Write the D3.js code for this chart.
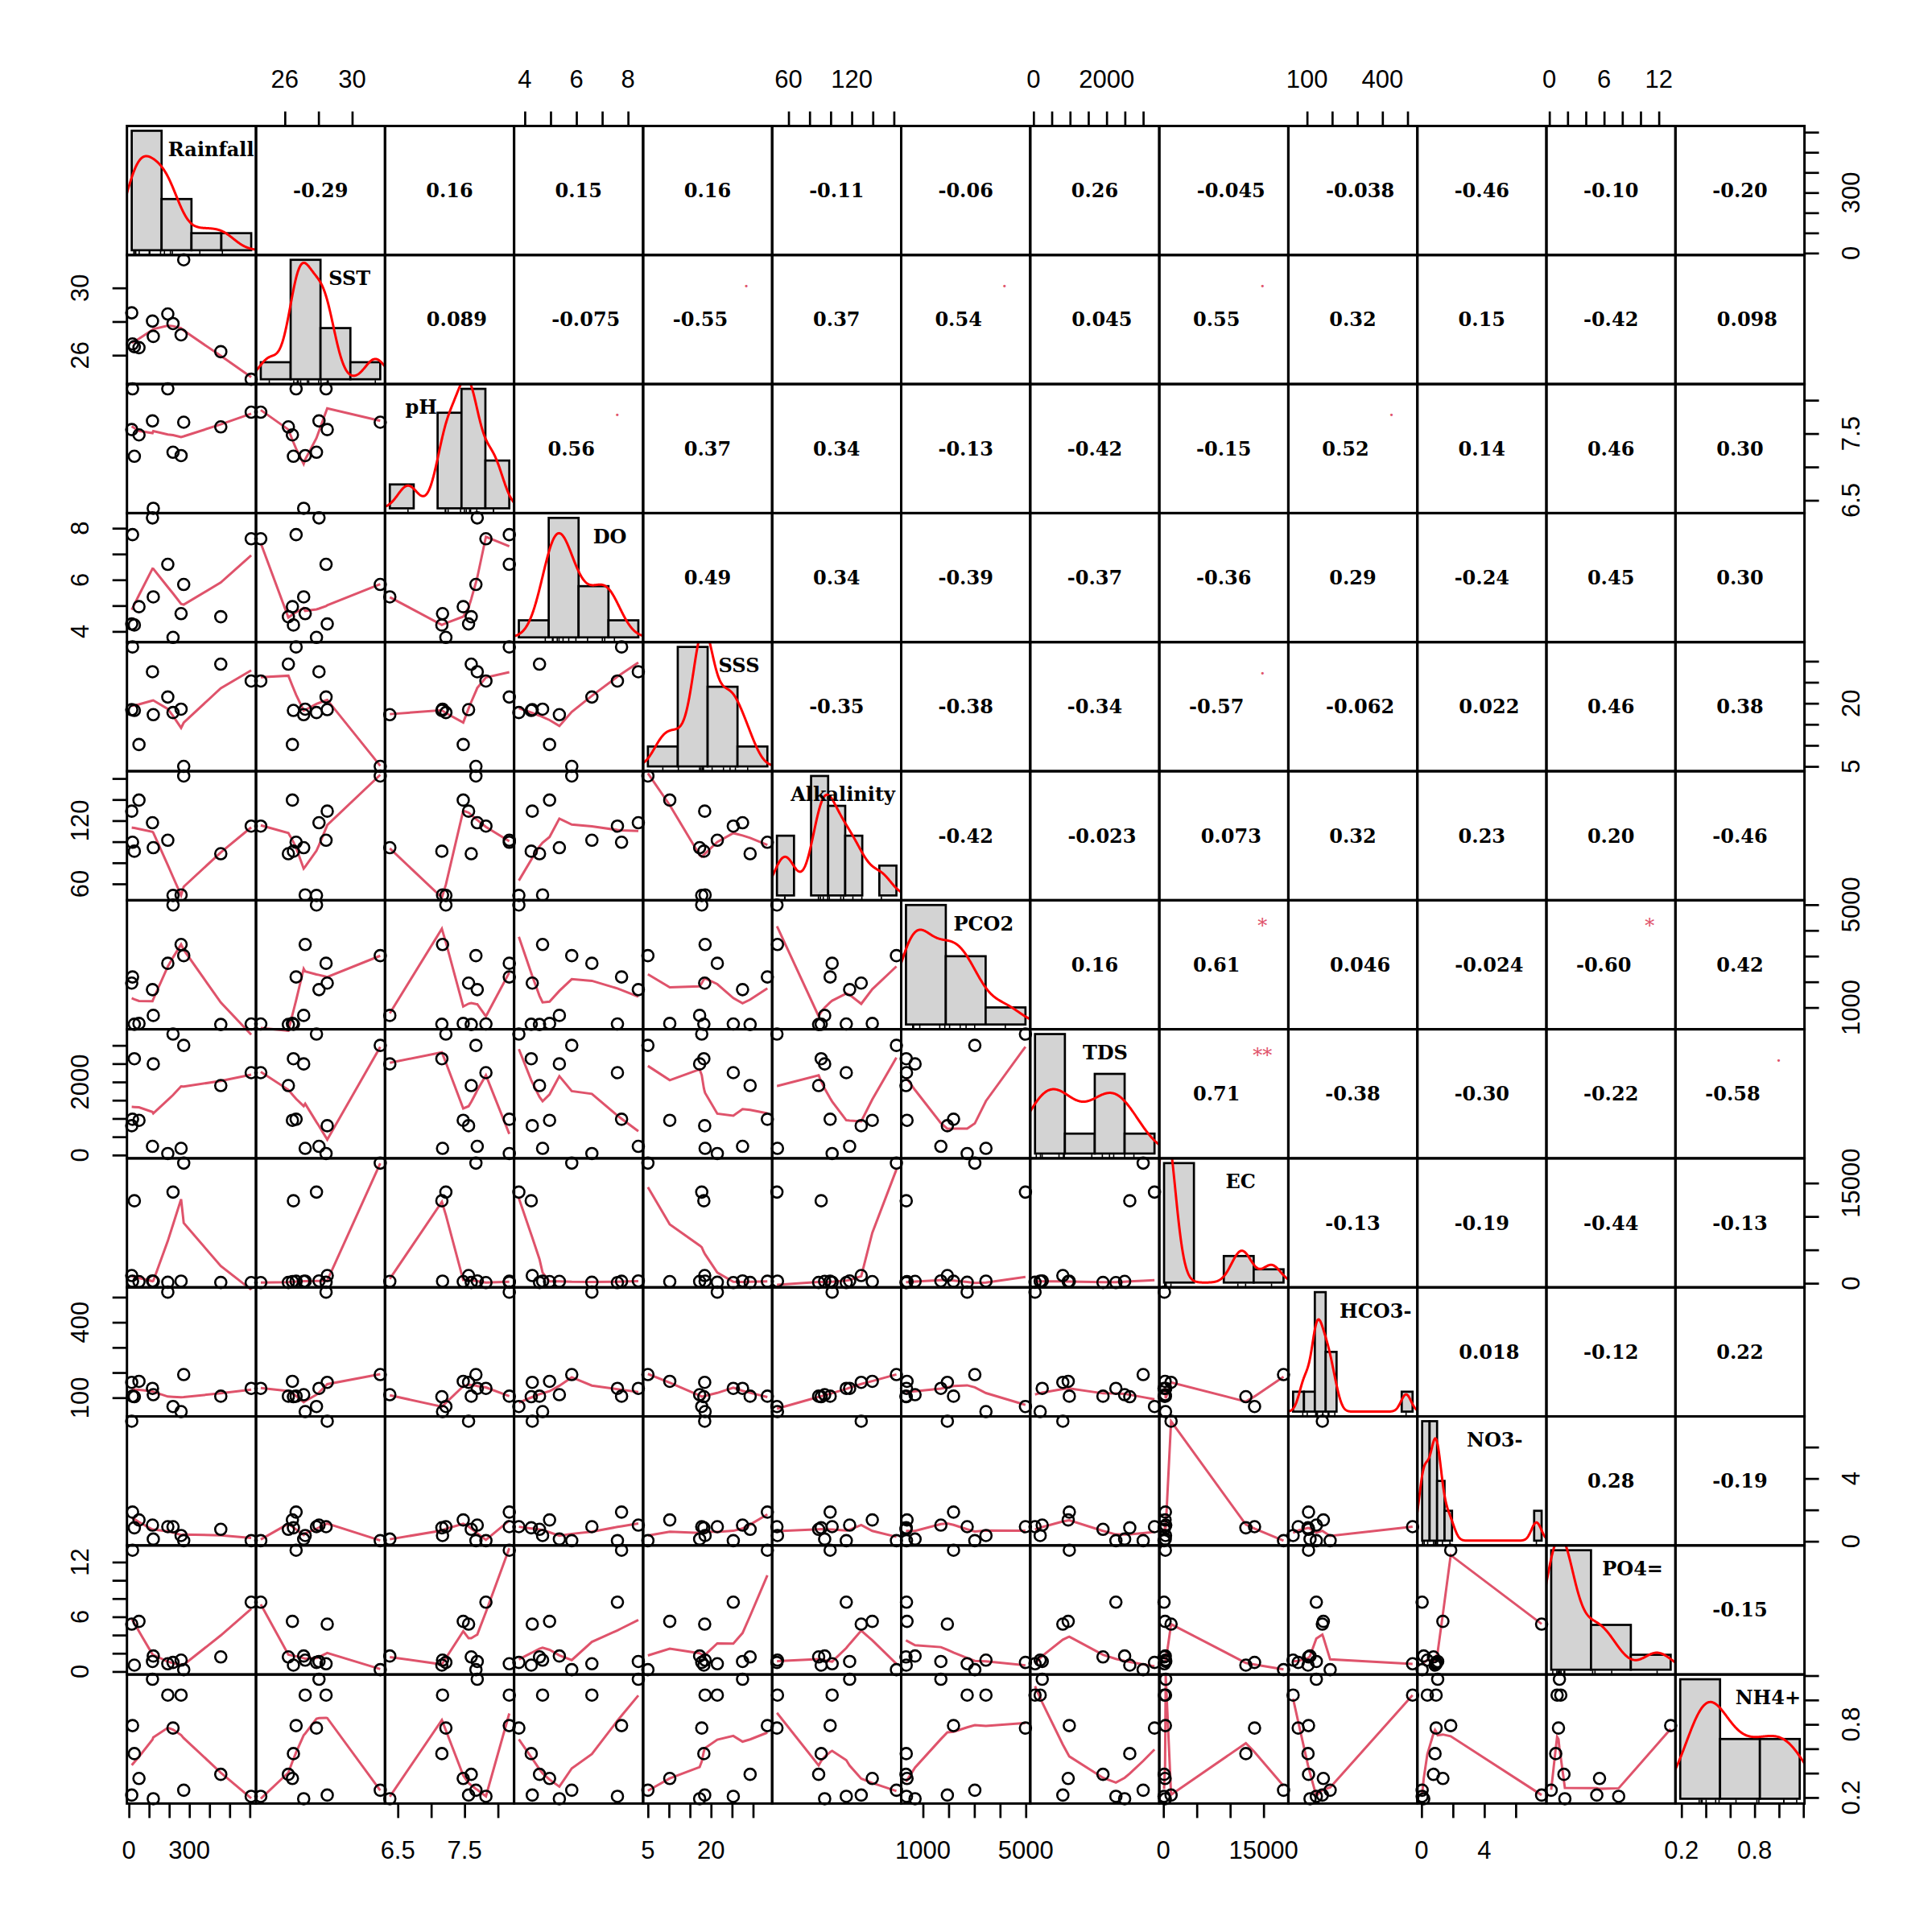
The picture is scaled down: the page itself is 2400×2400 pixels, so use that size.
<!DOCTYPE html>
<html><head><meta charset="utf-8">
<script src="https://cdn.jsdelivr.net/npm/d3@7"></script>
<style>body{margin:0;background:#fff}</style>
</head><body>
<svg id="c" width="2400" height="2400" xmlns="http://www.w3.org/2000/svg"></svg>
<script>
// ---------------- data ----------------
const varNames = ["Rainfall","SST","pH","DO","SSS","Alkalinity","PCO2","TDS","EC","HCO3-","NO3-","PO4=","NH4+"];
const rainfall   = [14,18,27,50,117,121,193,219,259,272,456,607];
const sst        = [28.52,26.67,26.51,26.45,28.03,27.12,28.45,27.88,27.21,31.67,26.21,24.57];
const pH         = [7.56,8.17,7.16,7.48,7.69,6.38,8.17,7.22,7.17,7.67,7.60,7.82];
const dissolvedO = [4.29,7.75,4.25,4.96,8.40,5.34,6.60,3.77,4.69,5.82,4.57,7.59];
const sss        = [18.5,33.4,18.3,10.2,27.5,17.3,21.5,17.8,18.6,5.0,29.3,25.3];
const alkalinity = [129,99.5,91,139.5,118,94.3,101.4,49,49.5,162.4,88.6,114.8];
const pco2       = [1950,2190,350,380,1697,693,2721,4988,3451,3018,340,360];
const tds        = [803,980,2634,950,239,2493,42,3310,183,3000,1901,2254];
const ec         = [1150,300,12350,250,350,280,150,13650,320,17990,120,100];
const hco3       = [161,106,104,165,137,112,520,65,44.6,192,106,137];
const no3        = [7.65,1.86,0.86,1.36,1.03,0.14,0.93,0.93,0.37,0.04,0.76,0.04];
const po4        = [5.2,13.3,0.7,5.5,1.1,1.7,0.85,1.0,1.25,0.2,1.6,7.6];
const nh4        = [0.22,0.79,0.56,0.356,1.17,0.19,1.04,0.77,1.04,0.26,0.39,0.21];

// histogram breaks per variable
const histBreaks = [
  [0,200,400,600,800],
  [24,26,28,30,32],
  [6,6.5,7,7.5,8,8.5],
  [2,4,6,8,10],
  [0,10,20,30,40],
  [40,60,80,100,120,140,160,180],
  [0,2000,4000,6000],
  [0,1000,2000,3000,4000],
  [0,5000,10000,15000,20000],
  [0,50,100,150,200,250,300,350,400,450,500,550],
  [0,0.5,1,1.5,2,2.5,3,3.5,4,4.5,5,5.5,6,6.5,7,7.5,8],
  [0,5,10,15],
  [0,0.4,0.8,1.2]
];

// axis ticks and the tick labels that are printed
const axisTicks = [
  [0,100,200,300,400,500,600],
  [26,28,30],
  [6.5,7,7.5,8],
  [4,5,6,7,8],
  [5,10,15,20,25,30],
  [60,80,100,120,140,160],
  [1000,2000,3000,4000,5000],
  [0,500,1000,1500,2000,2500,3000],
  [0,5000,10000,15000],
  [100,200,300,400,500],
  [0,2,4,6],
  [0,2,4,6,8,10,12],
  [0.2,0.4,0.6,0.8,1.0,1.2]
];
const axisLabels = [
  ["0","300"],["26","30"],["6.5","7.5"],["4","6","8"],["5","20"],["60","120"],
  ["1000","5000"],["0","2000"],["0","15000"],["100","400"],["0","4"],["0","6","12"],["0.2","0.8"]
];

// correlation coefficients shown in the upper panels (row i, columns i+1..)
const corText = [
  ["-0.29","0.16","0.15","0.16","-0.11","-0.06","0.26","-0.045","-0.038","-0.46","-0.10","-0.20"],
  ["0.089","-0.075","-0.55","0.37","0.54","0.045","0.55","0.32","0.15","-0.42","0.098"],
  ["0.56","0.37","0.34","-0.13","-0.42","-0.15","0.52","0.14","0.46","0.30"],
  ["0.49","0.34","-0.39","-0.37","-0.36","0.29","-0.24","0.45","0.30"],
  ["-0.35","-0.38","-0.34","-0.57","-0.062","0.022","0.46","0.38"],
  ["-0.42","-0.023","0.073","0.32","0.23","0.20","-0.46"],
  ["0.16","0.61","0.046","-0.024","-0.60","0.42"],
  ["0.71","-0.38","-0.30","-0.22","-0.58"],
  ["-0.13","-0.19","-0.44","-0.13"],
  ["0.018","-0.12","0.22"],
  ["0.28","-0.19"],
  ["-0.15"]
];
// significance symbols: [row, col, symbol]
const sigMarks = [[1,4,"."],[1,6,"."],[1,8,"."],[2,3,"."],[2,9,"."],[4,8,"."],[6,8,"*"],[6,11,"*"],[7,8,"**"],[7,12,"."]];

// ---------------- layout / style ----------------
const labelPosX = [0.652,0.725,0.28,0.742,0.743,0.548,0.638,0.581,0.63,0.676,0.599,0.668,0.718];
const L = 157.7, T = 156.5, S = 160.3, N = 13;
const R = L + N*S, B = T + N*S;
const serif = "'DejaVu Serif', serif";
const sans = "'Liberation Sans', Arial, sans-serif";
const smoothCol = "#DF536B";

const series = [rainfall, sst, pH, dissolvedO, sss, alkalinity, pco2, tds, ec, hco3, no3, po4, nh4];

const svg = d3.select("#c");
svg.append("rect").attr("width",2400).attr("height",2400).attr("fill","#fff");
const defs = svg.append("defs");

function ext(v){ const [a,b] = d3.extent(v); const d = (b-a)*0.04; return [a-d, b+d]; }
const xScale = series.map((v,j)=> d3.scaleLinear().domain(ext(v)).range([L+j*S, L+(j+1)*S]));
const yScale = series.map((v,i)=> d3.scaleLinear().domain(ext(v)).range([T+(i+1)*S, T+i*S]));

// ---------- lowess (port of R clowess) ----------
function lowess(xIn, yIn, f=2/3, iter=3){
  const n = xIn.length;
  const idx = d3.range(n).sort((a,b)=> (xIn[a]-xIn[b]) || (a-b));
  const x = idx.map(i=>xIn[i]), y = idx.map(i=>yIn[i]);
  const delta = 0.01*(x[n-1]-x[0]);
  const ys = new Array(n).fill(0), rw = new Array(n).fill(1), res = new Array(n).fill(0), w = new Array(n).fill(0);
  const ns = Math.max(2, Math.min(n, Math.floor(f*n + 1e-7)));
  const range = x[n-1]-x[0];
  function lowest(xs, nleft, nright, userw){
    const h = Math.max(xs - x[nleft], x[nright] - xs);
    const h9 = 0.999*h, h1 = 0.001*h;
    let a = 0, j = nleft;
    while (j < n){
      w[j] = 0;
      const r = Math.abs(x[j]-xs);
      if (r <= h9){
        if (r <= h1) w[j] = 1; else w[j] = Math.pow(1 - Math.pow(r/h,3),3);
        if (userw) w[j] *= rw[j];
        a += w[j];
      } else if (x[j] > xs) break;
      j++;
    }
    const nrt = j-1;
    if (a <= 0) return null;
    for (j=nleft;j<=nrt;j++) w[j] /= a;
    if (h > 0){
      a = 0;
      for (j=nleft;j<=nrt;j++) a += w[j]*x[j];
      let b = xs - a, c = 0;
      for (j=nleft;j<=nrt;j++) c += w[j]*(x[j]-a)*(x[j]-a);
      if (Math.sqrt(c) > 0.001*range){
        b /= c;
        for (j=nleft;j<=nrt;j++) w[j] *= (b*(x[j]-a)+1);
      }
    }
    let s = 0;
    for (j=nleft;j<=nrt;j++) s += w[j]*y[j];
    return s;
  }
  for (let it=1; it<=iter+1; it++){
    let nleft=0, nright=ns-1, last=-1, i=0;
    for(;;){
      if (nright < n-1){
        const d1 = x[i]-x[nleft], d2 = x[nright+1]-x[i];
        if (d1 > d2){ nleft++; nright++; continue; }
      }
      const v = lowest(x[i], nleft, nright, it>1);
      ys[i] = (v===null) ? y[i] : v;
      if (last < i-1){
        const denom = x[i]-x[last];
        for (let j=last+1;j<i;j++){ const al=(x[j]-x[last])/denom; ys[j]=al*ys[i]+(1-al)*ys[last]; }
      }
      last = i;
      const cut = x[last]+delta;
      for (i=last+1;i<n;i++){
        if (x[i] > cut) break;
        if (x[i] === x[last]){ ys[i]=ys[last]; last=i; }
      }
      i = Math.max(last+1, i-1);
      if (last >= n-1) break;
    }
    for (let k=0;k<n;k++) res[k] = y[k]-ys[k];
    let sc = 0; for (let k=0;k<n;k++) sc += Math.abs(res[k]); sc /= n;
    if (it > iter) break;
    for (let k=0;k<n;k++) rw[k] = Math.abs(res[k]);
    const sorted = rw.slice().sort((a,b)=>a-b);
    const m1 = Math.floor(n/2);
    let cmad;
    if (n % 2 === 0){ const m2 = n-m1-1; cmad = 3*(sorted[m1]+sorted[m2]); } else cmad = 6*sorted[m1];
    if (cmad < 1e-7*sc) break;
    const c9 = 0.999*cmad, c1 = 0.001*cmad;
    for (let k=0;k<n;k++){ const r=Math.abs(res[k]); rw[k] = r<=c1 ? 1 : (r<=c9 ? Math.pow(1-Math.pow(r/cmad,2),2) : 0); }
  }
  return x.map((xv,k)=>[xv, ys[k]]);
}

// ---------- kernel density (R density, bw.nrd0) ----------
function density(v){
  const s = v.slice().sort(d3.ascending);
  const sd = d3.deviation(s);
  const iqr = d3.quantile(s,0.75) - d3.quantile(s,0.25);
  let lo = Math.min(sd, iqr/1.34);
  if (!(lo > 0)) lo = sd || 1;
  const bw = 0.9*lo*Math.pow(s.length, -0.2);
  const a = s[0]-3*bw, b = s[s.length-1]+3*bw, m = 512;
  const out = [];
  for (let k=0;k<m;k++){
    const t = a + (b-a)*k/(m-1);
    let sum = 0;
    for (const xv of s){ const z=(t-xv)/bw; sum += Math.exp(-0.5*z*z); }
    out.push([t, sum/(s.length*bw*Math.sqrt(2*Math.PI))]);
  }
  return out;
}

const gLower = svg.append("g");
const gUpper = svg.append("g");
const gDiag = svg.append("g");
const gBox = svg.append("g");
const gAxis = svg.append("g");

// ---------- lower panels: points + smooth ----------
for (let i=0;i<N;i++){
  for (let j=0;j<i;j++){
    const xs = xScale[j], ys = yScale[i];
    const xv = series[j], yv = series[i];
    const sm = lowess(xv, yv);
    gLower.append("path")
      .attr("d", d3.line().x(d=>xs(d[0])).y(d=>ys(d[1]))(sm))
      .attr("fill","none").attr("stroke",smoothCol).attr("stroke-width",3);
    gLower.selectAll(null).data(d3.range(xv.length)).enter().append("circle")
      .attr("cx",k=>xs(xv[k])).attr("cy",k=>ys(yv[k])).attr("r",7)
      .attr("fill","none").attr("stroke","#000").attr("stroke-width",2.6);
  }
}

// ---------- upper panels: correlation text ----------
for (let i=0;i<N;i++){
  for (let j=i+1;j<N;j++){
    const txt = corText[i][j-i-1];
    const mark = sigMarks.find(m=>m[0]===i && m[1]===j);
    const dec = txt.split(".")[1].length;
    const off = (dec===3 ? 9 : 0) + (mark ? -9 : 0);
    const cx = L + (j+0.5)*S + off, cy = T + (i+0.5)*S;
    gUpper.append("text").attr("x",cx).attr("y",cy)
      .attr("text-anchor","middle").attr("dominant-baseline","central")
      .attr("font-family",serif).attr("font-weight","bold").attr("font-size",24)
      .attr("fill","#000").text(txt);
    if (mark){
      gUpper.append("text").attr("x",L+(j+0.8)*S).attr("y",T+(i+0.2)*S)
        .attr("text-anchor","middle").attr("dominant-baseline","central")
        .attr("font-family",serif).attr("font-size",24)
        .attr("fill",smoothCol).text(mark[2]);
    }
  }
}

// ---------- diagonal: histogram + density + rug + name ----------
for (let i=0;i<N;i++){
  const v = series[i], br = histBreaks[i], n = v.length;
  const x0 = L+i*S, y0 = T+i*S;
  const counts = br.slice(0,-1).map((b,k)=> v.filter(t=> (k===0 ? t>=b : t>b) && t<=br[k+1]).length);
  const dens = counts.map((c,k)=> c/(n*(br[k+1]-br[k])));
  const bx = d3.scaleLinear().domain([br[0]-0.04*(br[br.length-1]-br[0]), br[br.length-1]+0.04*(br[br.length-1]-br[0])]).range([x0, x0+S]);
  const mx = d3.max(dens);
  const by = d3.scaleLinear().domain([-0.04*mx, 1.04*mx]).range([y0+S, y0]);
  const cid = "clip"+i;
  defs.append("clipPath").attr("id",cid).append("rect").attr("x",x0).attr("y",y0).attr("width",S).attr("height",S);
  const g = gDiag.append("g");
  g.selectAll(null).data(counts.map((c,k)=>k)).enter().append("rect")
    .attr("x",k=>bx(br[k])).attr("width",k=>bx(br[k+1])-bx(br[k]))
    .attr("y",k=>by(dens[k])).attr("height",k=>by(0)-by(dens[k]))
    .attr("fill","#D3D3D3").attr("stroke","#000").attr("stroke-width",2.7);
  g.append("path").attr("clip-path",`url(#${cid})`)
    .attr("d", d3.line().x(d=>bx(d[0])).y(d=>by(d[1]))(density(v)))
    .attr("fill","none").attr("stroke","#FF0000").attr("stroke-width",3);
  g.selectAll(null).data(v).enter().append("line")
    .attr("x1",d=>bx(d)).attr("x2",d=>bx(d)).attr("y1",y0+S).attr("y2",y0+S-0.03*S)
    .attr("stroke","#000").attr("stroke-width",1.6);
  g.append("text").attr("x",x0+labelPosX[i]*S).attr("y",y0+0.18*S)
    .attr("text-anchor","middle").attr("dominant-baseline","central")
    .attr("font-family",serif).attr("font-weight","bold").attr("font-size",24)
    .attr("fill","#000").text(varNames[i]);
}

// ---------- panel boxes ----------
for (let i=0;i<N;i++) for (let j=0;j<N;j++){
  gBox.append("rect").attr("x",L+j*S).attr("y",T+i*S).attr("width",S).attr("height",S)
    .attr("fill","none").attr("stroke","#000").attr("stroke-width",3);
}

// ---------- axes ----------
const tickLen = 18, labOff = 58;
for (let k=0;k<N;k++){
  const labs = axisLabels[k];
  if (k % 2 === 1){
    // top axis (column k) and left axis (row k)
    const ax = d3.axisTop(xScale[k]).tickValues(axisTicks[k]).tickSize(tickLen).tickFormat("");
    const ga = gAxis.append("g").attr("transform",`translate(0,${T})`).call(ax);
    ga.select(".domain").remove();
    ga.selectAll(".tick line").attr("stroke","#000").attr("stroke-width",2.7);
    labs.forEach(s=>{
      gAxis.append("text").attr("x",xScale[k](+s)).attr("y",T-labOff)
        .attr("text-anchor","middle").attr("dominant-baseline","central")
        .attr("font-family",sans).attr("font-size",31).text(s);
    });
    const ay = d3.axisLeft(yScale[k]).tickValues(axisTicks[k]).tickSize(tickLen).tickFormat("");
    const gy = gAxis.append("g").attr("transform",`translate(${L},0)`).call(ay);
    gy.select(".domain").remove();
    gy.selectAll(".tick line").attr("stroke","#000").attr("stroke-width",2.7);
    labs.forEach(s=>{
      const yy = yScale[k](+s), xx = L-labOff;
      gAxis.append("text").attr("transform",`translate(${xx},${yy}) rotate(-90)`)
        .attr("text-anchor","middle").attr("dominant-baseline","central")
        .attr("font-family",sans).attr("font-size",31).text(s);
    });
  } else {
    // bottom axis (column k) and right axis (row k)
    const ax = d3.axisBottom(xScale[k]).tickValues(axisTicks[k]).tickSize(tickLen).tickFormat("");
    const ga = gAxis.append("g").attr("transform",`translate(0,${B})`).call(ax);
    ga.select(".domain").remove();
    ga.selectAll(".tick line").attr("stroke","#000").attr("stroke-width",2.7);
    labs.forEach(s=>{
      gAxis.append("text").attr("x",xScale[k](+s)).attr("y",B+labOff)
        .attr("text-anchor","middle").attr("dominant-baseline","central")
        .attr("font-family",sans).attr("font-size",31).text(s);
    });
    const ay = d3.axisRight(yScale[k]).tickValues(axisTicks[k]).tickSize(tickLen).tickFormat("");
    const gy = gAxis.append("g").attr("transform",`translate(${R},0)`).call(ay);
    gy.select(".domain").remove();
    gy.selectAll(".tick line").attr("stroke","#000").attr("stroke-width",2.7);
    labs.forEach(s=>{
      const yy = yScale[k](+s), xx = R+labOff;
      gAxis.append("text").attr("transform",`translate(${xx},${yy}) rotate(-90)`)
        .attr("text-anchor","middle").attr("dominant-baseline","central")
        .attr("font-family",sans).attr("font-size",31).text(s);
    });
  }
}
</script>
</body></html>
